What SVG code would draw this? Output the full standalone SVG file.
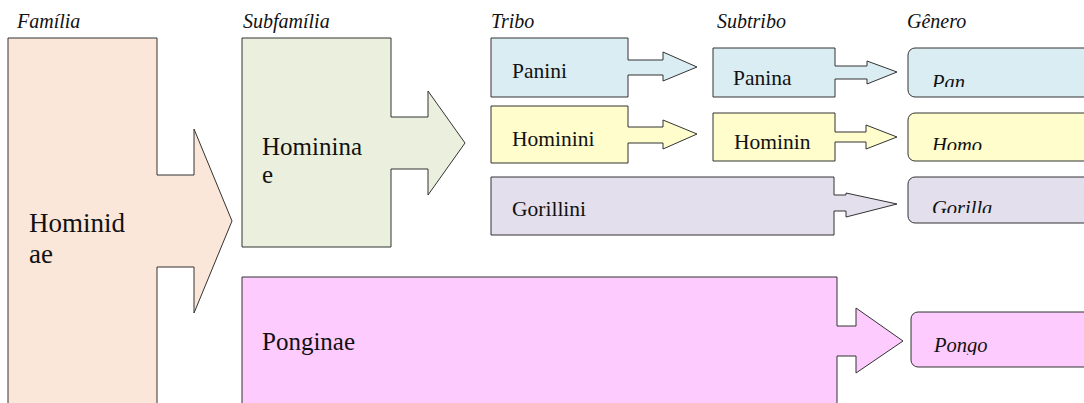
<svg xmlns="http://www.w3.org/2000/svg" width="1084" height="403" viewBox="0 0 1084 403">
  <style>
    .rank { font-family: "Liberation Serif", "Times New Roman", serif; font-style: italic; font-size: 20px; fill: #111; }
    .shape { stroke: #333333; stroke-width: 1; stroke-linejoin: miter; }
    .name { font-family: "Liberation Serif", "Times New Roman", serif; fill: #111; }
    .genus { font-family: "Liberation Serif", "Times New Roman", serif; font-style: italic; font-size: 20.5px; fill: #111; }
    .peach { fill: #fbe7d9; }
    .green { fill: #eaf0dd; }
    .blue { fill: #daedf3; }
    .yellow { fill: #fefdcb; }
    .lilac { fill: #e4dfec; }
    .pink { fill: #fdcbfd; }
  </style>
  <defs>
    <clipPath id="clip-pan"><rect x="900" y="40" width="190" height="47"/></clipPath>
    <clipPath id="clip-homo"><rect x="900" y="105" width="190" height="45"/></clipPath>
    <clipPath id="clip-gorilla"><rect x="900" y="170" width="190" height="43"/></clipPath>
    <clipPath id="clip-pongo"><rect x="900" y="300" width="190" height="55"/></clipPath>
  </defs>

  <rect width="1084" height="403" fill="#ffffff"/>

  <!-- rank headings -->
  <g id="headings">
    <text class="rank" x="17" y="28">Família</text>
    <text class="rank" x="243" y="28">Subfamília</text>
    <text class="rank" x="491" y="28">Tribo</text>
    <text class="rank" x="717" y="28">Subtribo</text>
    <text class="rank" x="907" y="28">Gênero</text>
  </g>

  <!-- family -->
  <g id="hominidae">
    <path class="shape peach" d="M8,38 H157 V175 H194 V129 L232,221 L194,313 V267 H157 V410 H8 Z"/>
    <text class="name" font-size="27" x="29" y="232">Hominid</text>
    <text class="name" font-size="27" x="29" y="263">ae</text>
  </g>

  <!-- subfamilies -->
  <g id="homininae">
    <path class="shape green" d="M242,38 H391 V117 H428 V91 L465,143 L428,195 V169 H391 V247 H242 Z"/>
    <text class="name" font-size="25" x="262" y="155">Hominina</text>
    <text class="name" font-size="25" x="262" y="183">e</text>
  </g>
  <g id="ponginae">
    <path class="shape pink" d="M242,277 H837 V326 H856 V308 L903,341 L856,373 V356 H837 V410 H242 Z"/>
    <text class="name" font-size="25" x="262" y="350">Ponginae</text>
  </g>

  <!-- tribes -->
  <g id="panini">
    <path class="shape blue" d="M491,38 H628 V60 H663 V52 L697,67 L663,81 V75 H628 V97 H491 Z"/>
    <text class="name" font-size="21.5" x="512" y="78">Panini</text>
  </g>
  <g id="hominini">
    <path class="shape yellow" d="M491,106 H628 V127 H663 V120 L697,134 L663,149 V143 H628 V163 H491 Z"/>
    <text class="name" font-size="21.5" x="512" y="146">Hominini</text>
  </g>
  <g id="gorillini">
    <path class="shape lilac" d="M491,177 H834 V195 H846 V193 L897,204 L846,217 V211 H834 V235 H491 Z"/>
    <text class="name" font-size="21.5" x="512" y="216">Gorillini</text>
  </g>

  <!-- subtribes -->
  <g id="panina">
    <path class="shape blue" d="M713,48 H835 V66 H867 V61 L897,72 L867,84 V79 H835 V97 H713 Z"/>
    <text class="name" font-size="21.5" x="733" y="85">Panina</text>
  </g>
  <g id="hominin">
    <path class="shape yellow" d="M713,113 H835 V132 H866 V125 L897,137 L866,149 V142 H835 V161 H713 Z"/>
    <text class="name" font-size="21.5" x="734" y="149">Hominin</text>
  </g>

  <!-- genera -->
  <g id="pan">
    <rect class="shape blue" x="908" y="48" width="200" height="49" rx="7"/>
    <text class="genus" x="932" y="89" clip-path="url(#clip-pan)">Pan</text>
  </g>
  <g id="homo">
    <rect class="shape yellow" x="908" y="113" width="200" height="48" rx="7"/>
    <text class="genus" x="932" y="152" clip-path="url(#clip-homo)">Homo</text>
  </g>
  <g id="gorilla">
    <rect class="shape lilac" x="908" y="177" width="200" height="46" rx="7"/>
    <text class="genus" x="932" y="215" clip-path="url(#clip-gorilla)">Gorilla</text>
  </g>
  <g id="pongo">
    <rect class="shape pink" x="911" y="312" width="200" height="55" rx="7"/>
    <text class="genus" x="934" y="352" clip-path="url(#clip-pongo)">Pongo</text>
  </g>
</svg>
